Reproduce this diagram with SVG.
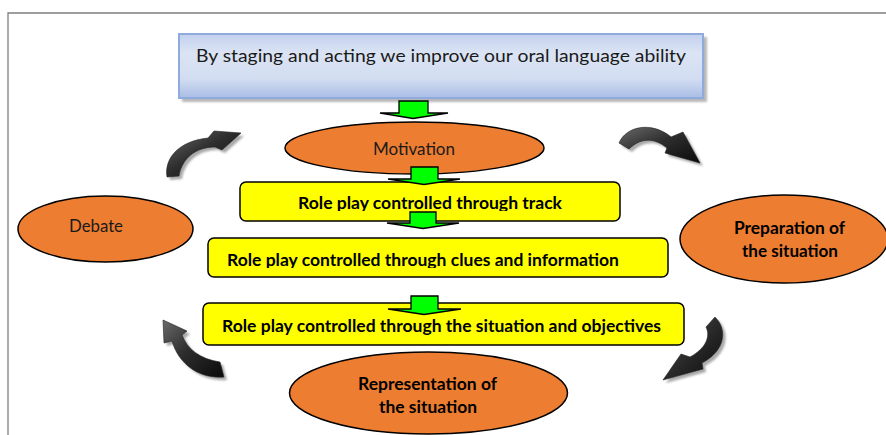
<svg xmlns="http://www.w3.org/2000/svg" width="886" height="435" viewBox="0 0 886 435">
<defs>
<style>
.frame{fill:none;stroke:#7f7f7f;stroke-width:1.3}
.ell{fill:#ed7d31;stroke:#000;stroke-width:1.5}
.box{fill:#ffff00;stroke:#000;stroke-width:1.5}
.garrow{fill:#00ff00;stroke:#000;stroke-width:1.3;stroke-linejoin:miter}
.curve{fill:url(#cg);stroke:#222;stroke-width:0.6}
.curveSh{fill:#8c8c8c;opacity:0.75}
.t{font-family:Lato,"Open Sans","Liberation Sans",sans-serif;fill:#1a1a1a}
.tn{font-size:16.5px}
.tb{font-size:17px;font-weight:bold;fill:#000}
.te{font-size:16.5px;font-weight:bold;fill:#000}
</style>
<linearGradient id="bg" x1="0" y1="0" x2="0" y2="1">
<stop offset="0" stop-color="#c3d1ee"/>
<stop offset="0.3" stop-color="#dbe4f4"/>
<stop offset="0.7" stop-color="#d2ddf1"/>
<stop offset="1" stop-color="#aabde6"/>
</linearGradient>
<linearGradient id="cg" x1="0" y1="0" x2="1" y2="1">
<stop offset="0" stop-color="#6a6a6a"/>
<stop offset="0.45" stop-color="#2e2e2e"/>
<stop offset="1" stop-color="#0a0a0a"/>
</linearGradient>
<filter id="blur" x="-20%" y="-20%" width="140%" height="140%">
<feGaussianBlur stdDeviation="1.2"/>
</filter>
<clipPath id="c1"><rect x="240" y="182" width="380" height="29"/></clipPath>
<clipPath id="c2"><rect x="208" y="238" width="460" height="30"/></clipPath>
</defs>
<rect width="886" height="435" fill="#fff"/>
<path class="frame" d="M8,435 V13 H886"/>

<g id="title">
<rect x="182" y="37" width="525" height="65" fill="#9a9a9a" opacity="0.7" filter="url(#blur)"/>
<rect x="179" y="34" width="524" height="64" fill="url(#bg)" stroke="#8faadc" stroke-width="2"/>
<text class="t" x="441" y="62.3" font-size="17.5" text-anchor="middle" textLength="490" lengthAdjust="spacingAndGlyphs">By staging and acting we improve our oral language ability</text>
</g>

<g id="motivation">
<ellipse class="ell" cx="414.5" cy="148" rx="129.5" ry="26"/>
<text class="t tn" x="414" y="155" text-anchor="middle" textLength="82" lengthAdjust="spacingAndGlyphs" fill="#262626">Motivation</text>
</g>

<g id="box1">
<rect class="box" x="240" y="182" width="380" height="39" rx="6"/>
<text class="t tb" x="430" y="208.5" text-anchor="middle" textLength="264" lengthAdjust="spacingAndGlyphs" clip-path="url(#c1)">Role play controlled through track</text>
</g>

<g id="box2">
<rect class="box" x="208" y="238" width="460" height="39" rx="6"/>
<text class="t tb" x="423" y="265.5" text-anchor="middle" textLength="392" lengthAdjust="spacingAndGlyphs" clip-path="url(#c2)">Role play controlled through clues and information</text>
</g>

<g id="box3">
<rect class="box" x="203" y="303" width="481" height="42" rx="6"/>
<text class="t tb" x="441.5" y="332" text-anchor="middle" textLength="439" lengthAdjust="spacingAndGlyphs">Role play controlled through the situation and objectives</text>
</g>

<g id="debate">
<ellipse class="ell" cx="105.5" cy="229" rx="87.5" ry="33"/>
<text class="t tn" x="96" y="232" text-anchor="middle" textLength="54" lengthAdjust="spacingAndGlyphs" fill="#262626">Debate</text>
</g>

<g id="preparation">
<ellipse class="ell" cx="784" cy="239" rx="104" ry="44"/>
<text class="t te" x="789.5" y="234" text-anchor="middle" textLength="111" lengthAdjust="spacingAndGlyphs">Preparation of</text>
<text class="t te" x="790" y="257" text-anchor="middle" textLength="96" lengthAdjust="spacingAndGlyphs">the situation</text>
</g>

<g id="representation">
<ellipse class="ell" cx="428.5" cy="393" rx="139" ry="41"/>
<text class="t te" x="427.5" y="390" text-anchor="middle" textLength="139" lengthAdjust="spacingAndGlyphs">Representation of</text>
<text class="t te" x="428" y="413" text-anchor="middle" textLength="98" lengthAdjust="spacingAndGlyphs">the situation</text>
</g>

<g id="connectors">
<polygon class="garrow" points="399,101 428,101 428,113 448,113 413,118.5 380,113 399,113"/>
<polygon class="garrow" points="411,167 438,167 438,179 460,179 424,184.5 388,179 411,179"/>
<polygon class="garrow" points="410,212 436,212 436,223 459,223 423,228.5 387,223 410,223"/>
<polygon class="garrow" points="411,296 438,296 438,309 461,309 424,314.5 388,309 411,309"/>

<g transform="translate(3,3)" filter="url(#blur)">
<path class="curveSh" d="M167,177 C164,158 179,141 208,138 L214,131 L241,133 L222,150 L215,147 C196,147 182,158 179,176 Z"/>
<path class="curveSh" d="M619,143 C626,126 652,121 671,137 L683,132 L700,163 L665,153 L667,148 C654,137 640,138 629,149 Z"/>
<path class="curveSh" d="M715,317 C728,330 725,351 702,363 L703,369 L663,380 L681,354 L690,357 C705,349 711,337 706,327 Z"/>
<path class="curveSh" d="M224,377 C200,379 179,365 172,341 L164,343 L163,320 L187,331 L182,335 C187,349 200,359 220,362 Z"/>
</g>
<path class="curve" d="M167,177 C164,158 179,141 208,138 L214,131 L241,133 L222,150 L215,147 C196,147 182,158 179,176 Z"/>
<path class="curve" d="M619,143 C626,126 652,121 671,137 L683,132 L700,163 L665,153 L667,148 C654,137 640,138 629,149 Z"/>
<path class="curve" d="M715,317 C728,330 725,351 702,363 L703,369 L663,380 L681,354 L690,357 C705,349 711,337 706,327 Z"/>
<path class="curve" d="M224,377 C200,379 179,365 172,341 L164,343 L163,320 L187,331 L182,335 C187,349 200,359 220,362 Z"/>
</g>
</svg>
